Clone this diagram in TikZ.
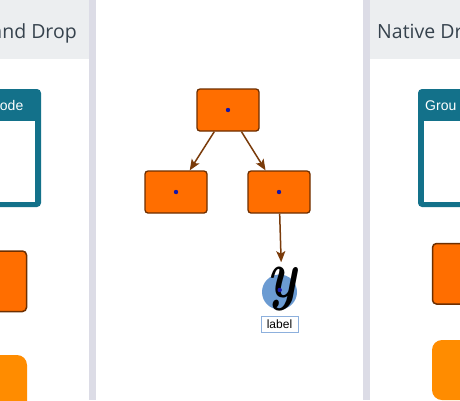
\documentclass[tikz,border=0pt]{standalone}
\usepackage{fontspec}
\newfontfamily\hdfont{Open Sans}
\newfontfamily\arialfont{Liberation Sans}
\usetikzlibrary{arrows.meta}
\definecolor{orangeA}{HTML}{FF6E00}
\definecolor{brownB}{HTML}{6E2F00}
\definecolor{arrowC}{HTML}{7A3B0A}
\definecolor{orangeL}{HTML}{FF8C00}
\definecolor{tealC}{HTML}{13718A}
\definecolor{hdrbg}{HTML}{ECEEF0}
\definecolor{barC}{HTML}{DCDCE6}
\definecolor{hdrtext}{HTML}{36424D}
\definecolor{circC}{HTML}{6B9BD2}
\definecolor{lblC}{HTML}{8DB0DD}
\definecolor{dotC}{HTML}{1616A8}
\tikzset{
  onode/.style={draw=brownB, line width=1.3pt, fill=orangeA, rounded corners=3pt,
    minimum width=62pt, minimum height=42pt, inner sep=0pt},
  conn/.style={draw=arrowC, line width=1.5pt,
    -{Stealth[length=11pt,width=9pt,inset=2.5pt]}},
  hdtext/.style={font=\hdfont\fontsize{19.5}{22}\selectfont, text=hdrtext, inner sep=0pt},
  grptext/.style={font=\arialfont\fontsize{14}{16}\selectfont, text=white, inner sep=0pt},
  lbl/.style={draw=lblC, line width=0.9pt, fill=white, minimum width=37pt, minimum height=16pt,
    inner sep=0pt, font=\arialfont\fontsize{12}{14}\selectfont},
  dotm/.style={fill=dotC},
}
\begin{document}
\begin{tikzpicture}[x=1pt,y=-1pt]
\useasboundingbox (0,0) rectangle (460,400);
\begin{scope}
\clip (0,0) rectangle (460,400);
% panels
\fill[white] (0,0) rectangle (460,400);
\fill[hdrbg] (0,0) rectangle (89,59);
\fill[hdrbg] (370,0) rectangle (460,59);
\fill[barC] (89,0) rectangle (96,400);
\fill[barC] (363,0) rectangle (370,400);
% header texts
\node[hdtext, anchor=base east] (hleft) at (77,38.5) {and Drop};
\node[hdtext, anchor=base west] (hright) at (377,38.5) {Native Dr};
% left side panel shapes
\fill[tealC, rounded corners=4pt] (-12,89) rectangle (41,207);
\fill[white] (-12,121) rectangle (35,202);
\node[grptext, anchor=base east] (gleft) at (23.5,110) {ode};
\filldraw[fill=orangeA, draw=brownB, line width=1.5pt, rounded corners=4pt] (-12,251) rectangle (26.5,311.5);
\fill[orangeL, rounded corners=10pt] (-12,355) rectangle (27,420);
% right side panel shapes
\fill[tealC, rounded corners=4pt] (418,89) rectangle (472,207);
\fill[white] (424,121) rectangle (472,202);
\node[grptext, anchor=base west] (gright) at (425,110) {Grou};
\filldraw[fill=orangeA, draw=brownB, line width=1.5pt, rounded corners=4pt] (432.5,243.5) rectangle (472,304);
\fill[orangeL, rounded corners=10pt] (432,340) rectangle (472,400);
\end{scope}
% middle graph
\node[onode] (top) at (228,110) {};
\node[onode] (lc) at (176,192) {};
\node[onode] (rc) at (279,192) {};
\fill[dotm] (top) circle (2.2);
\fill[dotm] (lc) circle (2.2);
\fill[dotm] (rc) circle (2.2);
\node[circle, fill=circC, minimum size=35pt, inner sep=0pt] (circ) at (279.5,292) {};
\node[inner sep=0pt, font=\fontsize{52}{52}\selectfont\bfseries\itshape] (glyph) at (282,289.5) {\scalebox{1}[1.3]{y}};
\fill[dotm] (279.7,290) circle (2.2);
\node[lbl] (lab) at (279.5,324) {label};
\draw[conn] (top) -- (lc);
\draw[conn] (top) -- (rc);
\draw[conn, shorten >=5pt] (rc) -- (glyph);
\end{tikzpicture}
\end{document}
